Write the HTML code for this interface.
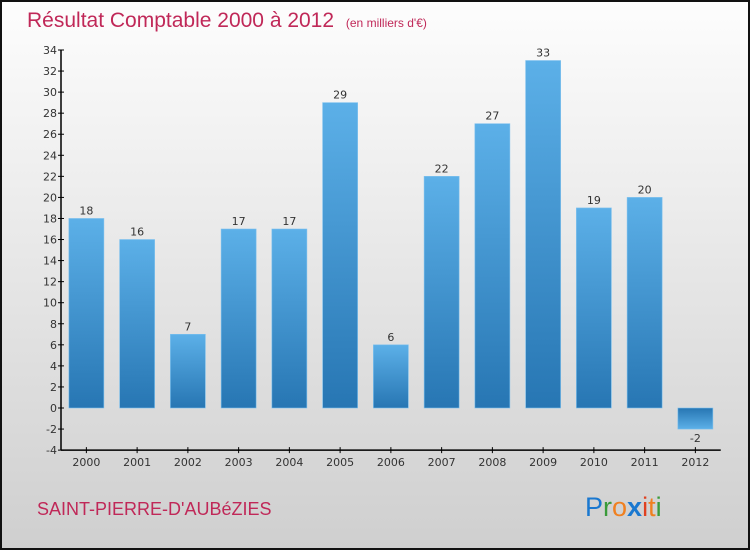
<!DOCTYPE html>
<html><head><meta charset="utf-8"><style>
body{margin:0;}
#wrap{position:relative;width:750px;height:550px;box-sizing:border-box;border:2px solid #111;background:linear-gradient(#fdfdfd,#cfcfcf);overflow:hidden;font-family:"DejaVu Sans","Liberation Sans",sans-serif;}
</style></head><body>
<div id="wrap">
<svg id="chart" width="746" height="546" style="position:absolute;left:0;top:0">
<defs>
<linearGradient id="gp" x1="0" y1="0" x2="0" y2="1"><stop offset="0" stop-color="#5cb0e8"/><stop offset="1" stop-color="#2776b3"/></linearGradient>
<linearGradient id="gn" x1="0" y1="0" x2="0" y2="1"><stop offset="0" stop-color="#2776b3"/><stop offset="1" stop-color="#5cb0e8"/></linearGradient>
</defs>
<text x="25" y="25" font-size="21" fill="#c02858" font-family="Liberation Sans,sans-serif">Résultat Comptable 2000 à 2012 <tspan font-size="12" dx="6">(en milliers d'€)</tspan></text>
<text x="35" y="513" font-size="18" fill="#c02858" font-family="Liberation Sans,sans-serif">SAINT-PIERRE-D'AUBéZIES</text>
<text x="583" y="514" font-size="27" font-family="Liberation Sans,sans-serif"><tspan fill="#1a78d0">P</tspan><tspan fill="#3a9a3a">r</tspan><tspan fill="#f08020">o</tspan><tspan fill="#1a78d0" font-weight="bold">x</tspan><tspan fill="#e04020">i</tspan><tspan fill="#f08020">t</tspan><tspan fill="#3a9a3a">i</tspan></text>
<g id="g"></g>
</svg>
</div>
<script>
const categories=["2000","2001","2002","2003","2004","2005","2006","2007","2008","2009","2010","2011","2012"];
const values=[18,16,7,17,17,29,6,22,27,33,19,20,-2];
const yTicks=[-4,-2,0,2,4,6,8,10,12,14,16,18,20,22,24,26,28,30,32,34];
const NS="http://www.w3.org/2000/svg";
const g=document.getElementById('g');
const ox=-2, oy=-2;
const x0=61+ox, band=50.75, bw=35;
function y(v){return 408+oy-(v*(358/34));}
function xc(i){return x0+band*(i+0.5);}
function el(t,a){const e=document.createElementNS(NS,t);for(const k in a)e.setAttribute(k,a[k]);g.appendChild(e);return e;}
values.forEach((v,i)=>{
 const r=el('rect',{x:xc(i)-bw/2,y:Math.min(y(v),y(0)),width:bw,height:Math.abs(y(v)-y(0)),fill:v>=0?'url(#gp)':'url(#gn)',stroke:'#7cc0ee','stroke-width':0.6});
 
 
 const t=el('text',{x:xc(i),y:v>=0?y(v)-4:y(v)+13,'text-anchor':'middle','font-size':11,fill:'#333'});
 t.textContent=v;
 
 
 const tk=el('line',{x1:xc(i),x2:xc(i),y1:y(-4)-3,y2:y(-4)+3,stroke:'#000'});
 
 
 const xl=el('text',{x:xc(i),y:y(-4)+16,'text-anchor':'middle','font-size':11,fill:'#333'});
 xl.textContent=categories[i];
 
 
});
yTicks.forEach(v=>{
 const l=el('line',{x1:x0-3,x2:x0+3,y1:y(v),y2:y(v),stroke:'#000'});
 
 
 const t=el('text',{x:x0-4,y:y(v)+4,'text-anchor':'end','font-size':11,fill:'#333'});
 t.textContent=v;
 
 
});
const ya=el('line',{x1:x0,x2:x0,y1:y(34),y2:y(-4),stroke:'#000','stroke-width':1.5});


const xa=el('line',{x1:x0,x2:x0+band*13,y1:y(-4),y2:y(-4),stroke:'#000','stroke-width':1.5});


</script>
</body></html>
